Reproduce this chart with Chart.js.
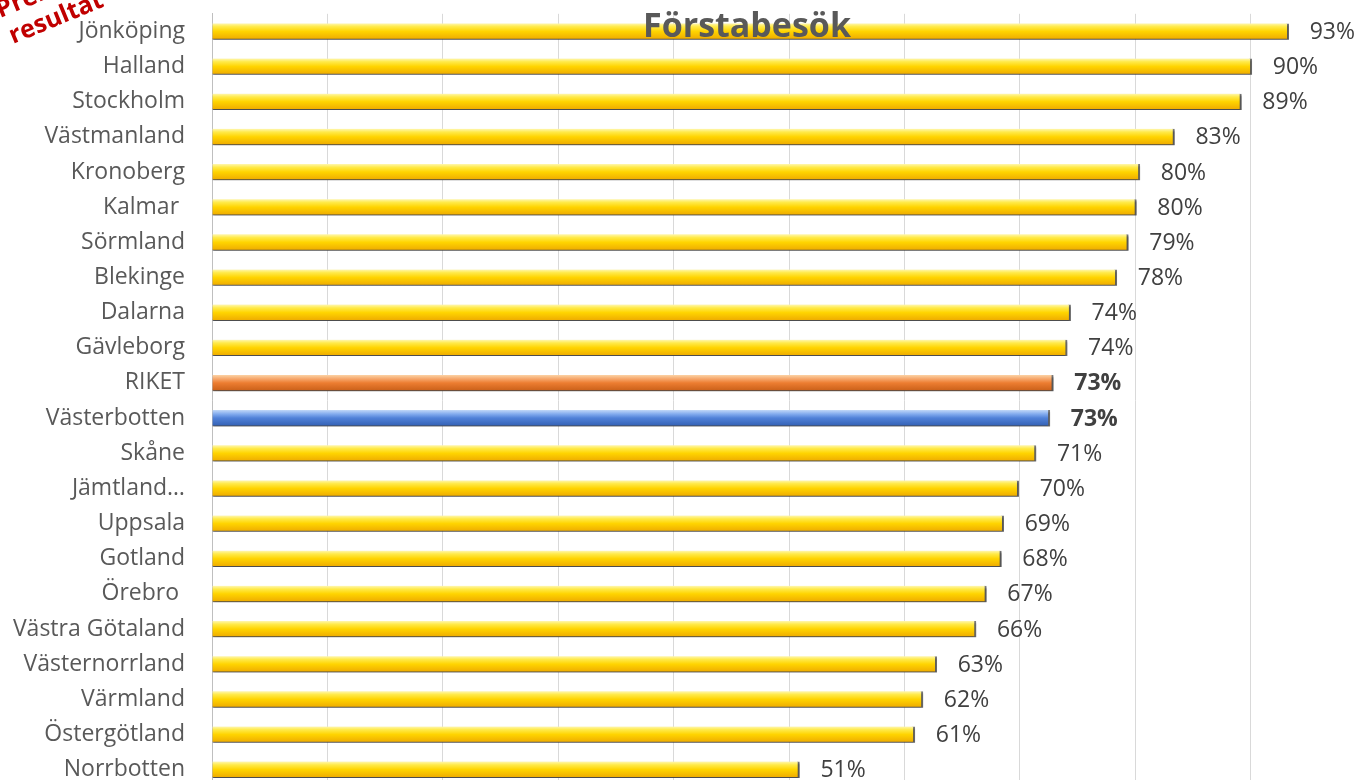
<!DOCTYPE html>
<html>
<head>
<meta charset="utf-8">
<script src="https://cdn.jsdelivr.net/npm/chart.js@4"></script>
<style>
  html, body { margin: 0; padding: 0; background: #fff; overflow: hidden; }
  #wrap { width: 1366px; height: 801px; }
</style>
</head>
<body>
<div id="wrap"><canvas id="forstabesok" width="1366" height="801"></canvas></div>
<script>
var regions = ["Jönköping", "Halland", "Stockholm", "Västmanland", "Kronoberg", "Kalmar ", "Sörmland", "Blekinge",
  "Dalarna", "Gävleborg", "RIKET", "Västerbotten", "Skåne", "Jämtland…", "Uppsala", "Gotland", "Örebro ",
  "Västra Götaland", "Västernorrland", "Värmland", "Östergötland", "Norrbotten"];
var shares = [93.3, 90.1, 89.2, 83.4, 80.4, 80.1, 79.4, 78.4, 74.4, 74.1, 72.9, 72.6, 71.4, 69.9, 68.6, 68.4, 67.1,
  66.2, 62.8, 61.6, 60.9, 50.9];
var xTicks = [0, 10, 20, 30, 40, 50, 60, 70, 80, 90, 100];

var yellowStops = [[0, "#fff7b0"], [0.2, "#ffea4a"], [0.5, "#ffd400"], [1, "#eeaa00"]];
var orangeStops = [[0, "#fcd3a6"], [0.25, "#f6a66a"], [0.5, "#ed7d31"], [1, "#c95f18"]];
var blueStops = [[0, "#c0d7f7"], [0.25, "#82abee"], [0.5, "#5081d8"], [1, "#3360b3"]];

function stopsFor(i) {
  if (regions[i] == "RIKET") return orangeStops;
  if (regions[i] == "Västerbotten") return blueStops;
  return yellowStops;
}

var barShadow = {
  id: "barShadow",
  beforeDatasetsDraw: function(chart) {
    var c = chart.ctx;
    c.save();
    c.shadowColor = "rgba(0,0,0,0.4)";
    c.shadowOffsetY = 2;
    c.shadowOffsetX = 1;
    c.shadowBlur = 2;
  },
  afterDatasetsDraw: function(chart) {
    chart.ctx.restore();
  }
};

var extras = {
  id: "extras",
  afterDraw: function(chart) {
    var c = chart.ctx;
    var meta = chart.getDatasetMeta(0);
    c.save();
    c.fillStyle = "#404040";
    c.textBaseline = "middle";
    c.textAlign = "left";
    meta.data.forEach(function(bar, i) {
      var bold = regions[i] == "RIKET" || regions[i] == "Västerbotten";
      c.font = (bold ? "bold " : "") + "23px 'Open Sans'";
      c.fillText(Math.round(shares[i]) + "%", bar.x + 21, bar.y + 1);
    });

    // title over the bars
    c.fillStyle = "#595959";
    c.textAlign = "center";
    c.font = "bold 34px 'Open Sans'";
    c.fillText("Förstabesök", 747, 27);

    // rotated stamp, top left
    c.translate(13, 44);
    c.rotate(-0.39);
    c.textAlign = "left";
    c.textBaseline = "alphabetic";
    c.fillStyle = "#c00000";
    c.font = "bold 25px 'Open Sans'";
    c.fillText("resultat", 0, 0);
    c.fillText("Preliminärt", -2, -29);
    c.restore();
  }
};

new Chart("forstabesok", {
  type: "bar",
  data: {
    labels: regions,
    datasets: [{
      data: shares,
      barThickness: 16,
      borderColor: "rgba(110,110,110,0.9)",
      borderWidth: { top: 0, right: 2, bottom: 1, left: 0 },
      borderSkipped: false,
      backgroundColor: function(ctx) {
        var chart = ctx.chart;
        if (ctx.type != "data" || !chart.scales.y) return "#ffd200";
        var y = chart.scales.y.getPixelForValue(ctx.dataIndex);
        if (!isFinite(y)) return "#ffd200";
        var g = chart.ctx.createLinearGradient(0, y - 8, 0, y + 8);
        stopsFor(ctx.dataIndex).forEach(function(s) { g.addColorStop(s[0], s[1]); });
        return g;
      }
    }]
  },
  options: {
    indexAxis: "y",
    responsive: false,
    animation: false,
    layout: { padding: 0 },
    plugins: {
      legend: { display: false },
      tooltip: { enabled: false },
      title: { display: false }
    },
    scales: {
      x: {
        min: 0,
        max: 100,
        afterBuildTicks: function(axis) {
          axis.ticks = xTicks.map(function(v) { return { value: v }; });
        },
        ticks: { display: false },
        grid: { color: "#d9d9d9", lineWidth: 1, drawTicks: false },
        border: { display: false },
        afterFit: function(axis) { axis.height = 0; }
      },
      y: {
        ticks: {
          color: "#595959",
          font: { family: "'Open Sans'", size: 23 },
          padding: 0,
          autoSkip: false
        },
        grid: { display: false, drawTicks: true, tickLength: 27 },
        border: { display: true, color: "#bfbfbf", width: 1 },
        afterFit: function(axis) { axis.width = 212; }
      }
    }
  },
  plugins: [barShadow, extras]
});
</script>
</body>
</html>
